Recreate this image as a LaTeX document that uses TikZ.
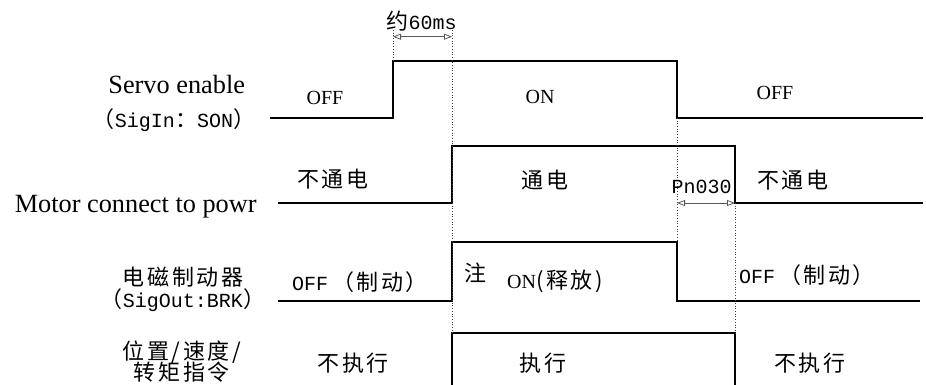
\documentclass[tikz,border=0pt]{standalone}
\usepackage{fontspec}
\setmainfont{Liberation Serif}
\newfontfamily\cjk[LetterSpace=12]{Noto Sans CJK SC}
\newfontfamily\mono{Liberation Mono}
\usetikzlibrary{arrows.meta}

\tikzset{
  sig/.style={line width=2.6pt, line cap=butt, line join=miter},
  guide/.style={line width=0.7pt, dotted, black!75},
  span/.style={line width=0.8pt, black!65,
    {Triangle[open,length=8pt,width=6pt]}-{Triangle[open,length=8pt,width=6pt]}},
  lbl/.style={anchor=center, inner sep=0pt},
  en/.style={lbl, font=\fontsize{26.3}{30}\selectfont},
  st/.style={lbl, font=\fontsize{20}{24}\selectfont},
  tt/.style={lbl, font=\mono\fontsize{20}{24}\selectfont},
  zh/.style={lbl, font=\cjk\fontsize{22}{26}\selectfont},
}
\newcommand\lat[1]{{\mono\fontsize{20}{24}\selectfont #1}}
\newcommand\han[1]{{\cjk\fontsize{22}{26}\selectfont #1}}

\begin{document}
\begin{tikzpicture}[x=1pt, y=-1pt]

  %% ════ 时刻（虚线所在的横坐标）════
  \coordinate (sonA) at (393,36.7);
  \coordinate (sonB) at (452,36.7);
  \coordinate (offA) at (677,203);
  \coordinate (offB) at (735,203);

  %% ════ 四路信号（粗线）════
  \draw[sig] (270,118) -- (393,118) -- (393,61) -- (677,61) -- (677,118) -- (923,118);
  \draw[sig] (278,203) -- (452,203) -- (452,146) -- (735,146) -- (735,203) -- (923,203);
  \draw[sig] (278,301) -- (452,301) -- (452,242) -- (677,242) -- (677,301) -- (920,301);
  \draw[sig] (452,386) -- (452,333) -- (735,333) -- (735,386);

  %% ════ 虚线 ════
  \draw[guide] (393,30) -- (393,61);
  \draw[guide] (452,30) -- (452,333);
  \draw[guide] (677,118) -- (677,242);
  \draw[guide] (735,203) -- (735,333);

  %% ════ 时间间隔 ════
  \draw[span] (sonA) -- (sonB);
  \draw[span] (offA) -- (offB);
  \node[tt] (t60) at (421.7,20.7) {\han{约}60ms};
  \node[tt] (tpn) at (701.7,186.7) {Pn030};

  %% ════ 左侧信号名 ════
  \node[en] (srvname) at (176.7,85) {Servo enable};
  \node[tt] (srvsig) at (174,120) {\han{（}SigIn\han{：}SON\han{）}};
  \node[en] (motname) at (135.7,206.7) {Motor connect to powr};
  \node[zh] (brkname) at (183,276.7) {电磁制动器};
  \node[zh] (brksig) at (183,300) {（\lat{SigOut:BRK}）};
  \node[zh] (cmdname) at (181.7,351.7) {位置/速度/};
  \node[zh] (cmdname2) at (181.7,371.7) {转矩指令};

  %% ════ 各段状态 ════
  \node[st] (srv1) at (325,98.3) {OFF};
  \node[st] (srv2) at (540,96.7) {ON};
  \node[st] (srv3) at (775,93.3) {OFF};
  \node[zh] (mot1) at (333,179) {不通电};
  \node[zh] (mot2) at (545,180) {通电};
  \node[zh] (mot3) at (793,180) {不通电};
  \node[zh] (brk1) at (360,281.7) {\lat{OFF}\hspace{4pt}（制动）};
  \node[zh] (brknote) at (475,273.3) {注};
  \node[zh] (brk2) at (555,281.7) {{\fontspec{Liberation Serif}\fontsize{20}{24}\selectfont ON}(释放)};
  \node[zh] (brk3) at (807,275) {\lat{OFF}\hspace{4pt}（制动）};
  \node[zh] (cmd1) at (353.3,363.3) {不执行};
  \node[zh] (cmd2) at (543.3,363.3) {执行};
  \node[zh] (cmd3) at (810,363.3) {不执行};

  % 钉死画布
  \pgfresetboundingbox
  \path[use as bounding box] (0,0) rectangle (926,385);
\end{tikzpicture}
\end{document}
